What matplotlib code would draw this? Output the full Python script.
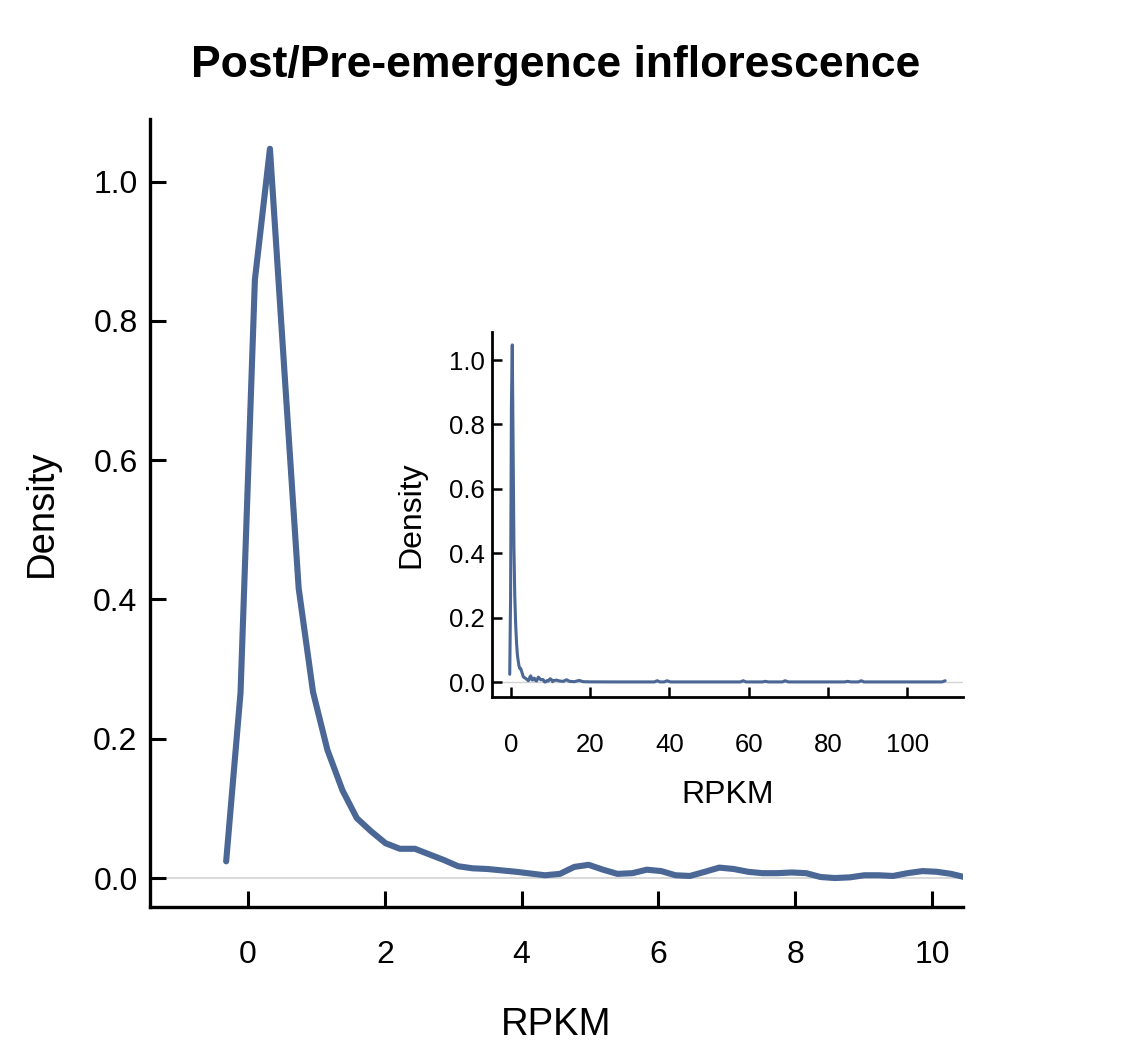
import matplotlib
matplotlib.use("Agg")
import matplotlib.pyplot as plt

plt.rcParams['font.family'] = ['Liberation Sans', 'DejaVu Sans']

title = "Post/Pre-emergence inflorescence"
x_label = "RPKM"
y_label = "Density"

# density curve
rpkm = [-0.32, -0.11, 0.10, 0.32, 0.53, 0.74, 0.95, 1.16, 1.38, 1.59, 1.80, 2.01,
        2.22, 2.44, 2.65, 2.86, 3.07, 3.28, 3.50, 3.71, 3.92, 4.13, 4.34, 4.56,
        4.77, 4.98, 5.19, 5.40, 5.62, 5.83, 6.04, 6.25, 6.46, 6.68, 6.89, 7.10,
        7.31, 7.52, 7.74, 7.95, 8.16, 8.37, 8.58, 8.80, 9.01, 9.22, 9.43, 9.64,
        9.86, 10.07, 10.28, 10.49]
density = [0.024, 0.266, 0.859, 1.047, 0.73, 0.416, 0.267, 0.184, 0.126, 0.086,
           0.067, 0.050, 0.042, 0.042, 0.034, 0.026, 0.017, 0.014, 0.013, 0.011,
           0.009, 0.0065, 0.004, 0.006, 0.016, 0.019, 0.012, 0.006, 0.007, 0.012,
           0.010, 0.004, 0.003, 0.009, 0.015, 0.013, 0.009, 0.007, 0.007, 0.008,
           0.007, 0.0015, 0.0, 0.001, 0.004, 0.004, 0.003, 0.007, 0.010, 0.009,
           0.006, 0.001]

# long tail
tail_rpkm = [10.7, 11.5, 12.3, 13.2, 14.0, 14.8, 16.0, 17.2, 18.2, 20.0, 25.0,
             30.0, 36.2, 36.9, 37.6, 38.7, 39.4, 40.2, 50.0, 57.9, 58.6, 59.3,
             63.5, 64.2, 65.0, 68.5, 69.2, 70.0, 84.2, 85.0, 85.8, 87.7, 88.4,
             89.1, 100.0, 108.8, 109.6]
tail_density = [0.004, 0.006, 0.003, 0.002, 0.007, 0.002, 0.001, 0.005, 0.001,
                0.0005, 0.0003, 0.0003, 0.0003, 0.004, 0.0003, 0.0003, 0.004,
                0.0003, 0.0003, 0.0003, 0.004, 0.0003, 0.0003, 0.002, 0.0003,
                0.0003, 0.004, 0.0003, 0.0003, 0.002, 0.0003, 0.0003, 0.004,
                0.0003, 0.0003, 0.0003, 0.004]

main_xticks = [0, 2, 4, 6, 8, 10]
main_yticks = [0.0, 0.2, 0.4, 0.6, 0.8, 1.0]
inset_xticks = [0, 20, 40, 60, 80, 100]
inset_yticks = [0.0, 0.2, 0.4, 0.6, 0.8, 1.0]

line_color = '#4A6796'

fig = plt.figure(figsize=(11.41, 10.58), dpi=100)


def style_axes(ax, spine_w, tick_len, tick_w, fs, xpad, ypad):
    for s in ['top', 'right']:
        ax.spines[s].set_visible(False)
    for s in ['left', 'bottom']:
        ax.spines[s].set_linewidth(spine_w)
        ax.spines[s].set_color('black')
    ax.tick_params(axis='both', direction='in', length=tick_len, width=tick_w,
                   labelsize=fs, colors='black')
    ax.tick_params(axis='x', pad=xpad)
    ax.tick_params(axis='y', pad=ypad)
    ax.set_facecolor('white')


# main axes
ax = fig.add_axes([0.1315, 0.1427, 0.7125, 0.7448])
ax.axhline(0, color='#d3d3d3', lw=1.2, zorder=1)
ax.plot(rpkm, density, color=line_color, lw=4.4, solid_capstyle='round',
        solid_joinstyle='round', zorder=3)
ax.set_xlim(-1.433, 10.453)
ax.set_ylim(-0.0416, 1.0897)
ax.set_xticks(main_xticks)
ax.set_xticklabels([f"{t:d}" for t in main_xticks])
ax.set_yticks(main_yticks)
ax.set_yticklabels([f"{t:.1f}" for t in main_yticks])
style_axes(ax, 2.4, 11.5, 2.2, 23, 24, 9)
ax.set_xlabel(x_label, fontsize=27.5)
ax.xaxis.set_label_coords(0.5, -0.1497)
ax.xaxis.label.set_va('center')
ax.set_ylabel(y_label, fontsize=27.5)
ax.yaxis.set_label_coords(-0.1328, 0.5)
ax.yaxis.label.set_va('center')

fig.text(0.4873, 1 - 77 / 1058, title, ha='center', va='baseline',
         fontsize=32, fontweight='bold')

# inset axes
ins = fig.add_axes([0.4312, 0.3412, 0.4128, 0.345])
ins.axhline(0, color='#d3d3d3', lw=1.0, zorder=1)
ins.plot(rpkm + tail_rpkm, density + tail_density, color=line_color, lw=2.2,
         solid_capstyle='round', solid_joinstyle='round', zorder=3)
ins.set_xlim(-4.8, 114.1)
ins.set_ylim(-0.0466, 1.087)
ins.set_xticks(inset_xticks)
ins.set_xticklabels([f"{t:d}" for t in inset_xticks])
ins.set_yticks(inset_yticks)
ins.set_yticklabels([f"{t:.1f}" for t in inset_yticks])
style_axes(ins, 2.0, 7.5, 1.8, 18.5, 26, 5)
ins.set_xlabel(x_label, fontsize=23)
ins.xaxis.set_label_coords(0.5, -0.2685)
ins.xaxis.label.set_va('center')
ins.set_ylabel(y_label, fontsize=23)
ins.yaxis.set_label_coords(-0.172, 0.5)
ins.yaxis.label.set_va('center')

fig.savefig('out.png', dpi=100, facecolor='white')
